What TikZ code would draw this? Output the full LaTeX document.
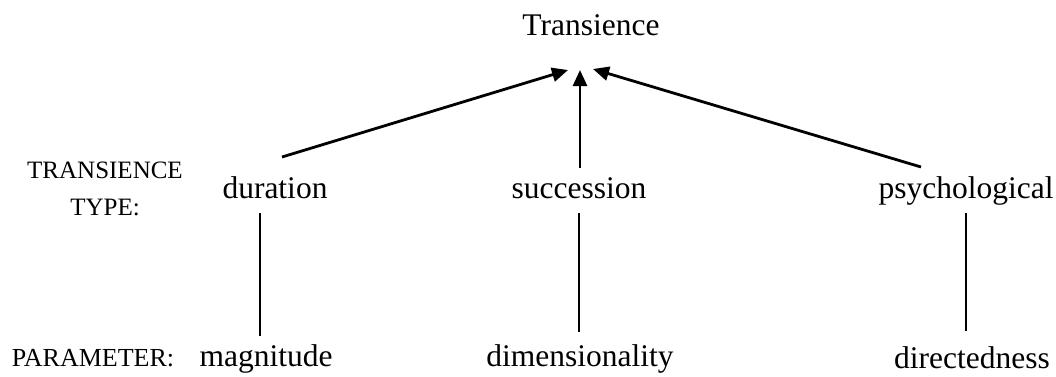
\documentclass[tikz,border=0pt]{standalone}
\usepackage{fontspec}
\setmainfont{Liberation Serif}
\usetikzlibrary{arrows.meta}
\begin{document}
\begin{tikzpicture}[x=1pt,y=-1pt,
  big/.style={inner sep=0pt,anchor=base,font=\fontsize{31.5}{36}\selectfont},
  small/.style={inner sep=0pt,anchor=base,font=\fontsize{25}{37}\selectfont,align=center},
  arr/.style={line width=2.8pt,-{Triangle[length=16pt,width=14pt]}},
  ln/.style={line width=2pt}]
\useasboundingbox (0,0) rectangle (1056,376);
% nodes
\node[big] (tr) at (591,35) {Transience};
\node[big] (dur) at (275,198) {duration};
\node[big] (suc) at (579,198) {succession};
\node[big] (psy) at (966,198) {psychological};
\node[big] (mag) at (266,366) {magnitude};
\node[big] (dim) at (580,366) {dimensionality};
\node[big] (dir) at (972,368) {directedness};
\node[small] (tt) at (105,178) {TRANSIENCE};
\node[small] (ty) at (105,215) {TYPE:};
\node[small,font=\fontsize{26}{37}\selectfont] (par) at (93,366) {PARAMETER:};
% connector end points
\coordinate (t1) at (568,70);
\coordinate (t2) at (580,70);
\coordinate (t3) at (593,69);
\coordinate (d1) at (282,157);
\coordinate (s1) at (580,168);
\coordinate (p1) at (921,167);
\coordinate (d2) at (260,213);
\coordinate (d3) at (260,336);
\coordinate (s2) at (579,213);
\coordinate (s3) at (579,332);
\coordinate (p2) at (966,213);
\coordinate (p3) at (966,331);
% connectors
\draw[arr] (d1) -- (t1);
\draw[arr] (s1) -- (t2);
\draw[arr] (p1) -- (t3);
\draw[ln] (d2) -- (d3);
\draw[ln] (s2) -- (s3);
\draw[ln] (p2) -- (p3);
\end{tikzpicture}
\end{document}
